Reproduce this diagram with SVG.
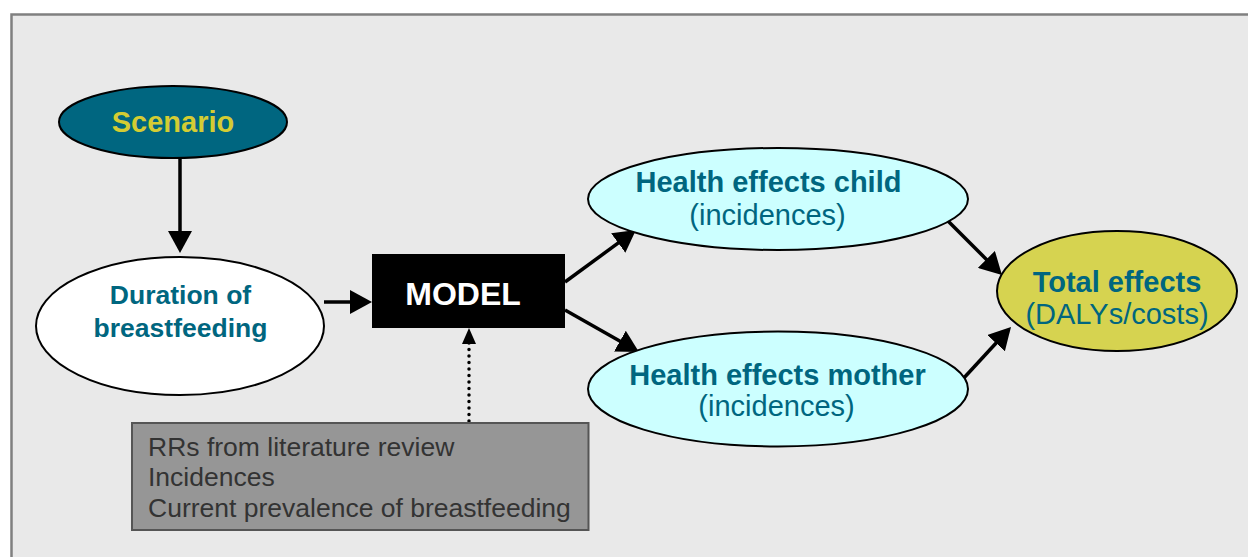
<svg xmlns="http://www.w3.org/2000/svg" width="1248" height="557" viewBox="0 0 1248 557">
<defs>
<style>
.bold{font-family:"Liberation Sans",Arial,sans-serif;font-weight:bold;text-anchor:middle}
.reg{font-family:"Liberation Sans",Arial,sans-serif;text-anchor:middle}
.teal{fill:#00667f}
.node{stroke:#000;stroke-width:2}
.conn{stroke:#000;stroke-width:3.5;fill:none;marker-end:url(#ah)}
.dot{stroke:#000;stroke-width:3.5;fill:none;stroke-dasharray:0 6.5;stroke-linecap:round;marker-end:url(#ahs)}
</style>
<marker id="ah" viewBox="0 0 22 24" refX="12" refY="12" markerWidth="22" markerHeight="24" markerUnits="userSpaceOnUse" orient="auto">
<path d="M0,0 L22,12 L0,24 Z" fill="#000"/>
</marker>
<marker id="ahs" viewBox="0 0 16 14" refX="8" refY="7" markerWidth="16" markerHeight="14" markerUnits="userSpaceOnUse" orient="auto">
<path d="M0,0 L16,7 L0,14 Z" fill="#000"/>
</marker>
</defs>
<rect x="0" y="0" width="1248" height="557" fill="#ffffff"/>
<rect x="11.5" y="14.5" width="1260" height="560" fill="#e9e9e9" stroke="#808080" stroke-width="2.5"/>

<g id="connectors">
<line class="conn" x1="180" y1="159" x2="180" y2="243"/>
<line class="conn" x1="324" y1="302" x2="362" y2="302"/>
<line class="conn" x1="565" y1="282" x2="627.9" y2="235.9"/>
<line class="conn" x1="565" y1="310" x2="630.3" y2="347.1"/>
<line class="conn" x1="946" y1="219" x2="994.9" y2="267.9"/>
<line class="conn" x1="962" y1="380" x2="1004.2" y2="334.3"/>
<line class="dot" x1="469" y1="421" x2="469" y2="336"/>
</g>

<g id="scenario">
<ellipse class="node" cx="173" cy="122" rx="114" ry="36" fill="#006680"/>
<text class="bold" x="173" y="131.5" font-size="29" fill="#d4cc33">Scenario</text>
</g>

<g id="duration">
<ellipse class="node" cx="180" cy="326" rx="144" ry="69" fill="#ffffff"/>
<text class="bold teal" x="180.5" y="304" font-size="26.5">Duration of</text>
<text class="bold teal" x="180.5" y="337" font-size="26.5">breastfeeding</text>
</g>

<g id="model">
<rect x="372" y="254" width="193" height="74" fill="#000"/>
<text class="bold" x="463" y="305" font-size="32" fill="#ffffff">MODEL</text>
</g>

<g id="inputs">
<rect x="132" y="423" width="456.5" height="107" fill="#969696" stroke="#555555" stroke-width="2"/>
<text font-family="Liberation Sans, Arial, sans-serif" font-size="26.5" fill="#333333">
<tspan x="148" y="456">RRs from literature review</tspan>
<tspan x="148" y="486">Incidences</tspan>
<tspan x="148" y="517">Current prevalence of breastfeeding</tspan>
</text>
</g>

<g id="child">
<ellipse class="node" cx="778" cy="199" rx="190" ry="51" fill="#ccffff"/>
<text class="bold teal" x="768.5" y="192" font-size="29">Health effects child</text>
<text class="reg teal" x="767.5" y="225" font-size="29">(incidences)</text>
</g>

<g id="mother">
<ellipse class="node" cx="778" cy="389" rx="190" ry="57.5" fill="#ccffff"/>
<text class="bold teal" x="777.5" y="385" font-size="29">Health effects mother</text>
<text class="reg teal" x="776.5" y="416" font-size="29">(incidences)</text>
</g>

<g id="total">
<ellipse class="node" cx="1117" cy="291" rx="120" ry="60" fill="#d6d350"/>
<text class="bold teal" x="1117" y="292" font-size="29">Total effects</text>
<text class="reg teal" x="1117" y="324" font-size="29">(DALYs/costs)</text>
</g>
</svg>
